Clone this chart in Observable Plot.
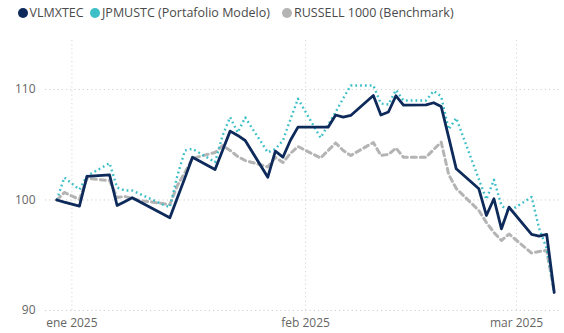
<!DOCTYPE html>
<html><head><meta charset="utf-8">
<script src="https://cdn.jsdelivr.net/npm/d3@7"></script>
<script src="https://cdn.jsdelivr.net/npm/@observablehq/plot@0.6"></script>
<style>
body{margin:0;background:#fff;font-family:"Segoe UI","Open Sans",sans-serif;}
#legend{position:relative;width:564px;height:28px;font-size:12.5px;color:#4a4a4a;}
.item{position:absolute;top:4px;display:flex;align-items:center;white-space:nowrap;line-height:17px}
.dot{width:10px;height:10px;border-radius:50%;margin-right:2px;flex:none}
</style></head><body>
<div id="legend"></div><div id="chart"></div>
<script>
const dates = ["2024-12-30","2024-12-31","2025-01-02","2025-01-03","2025-01-06","2025-01-07","2025-01-08","2025-01-09","2025-01-10","2025-01-13","2025-01-14","2025-01-15","2025-01-16","2025-01-17","2025-01-20","2025-01-21","2025-01-22","2025-01-23","2025-01-24","2025-01-27","2025-01-28","2025-01-29","2025-01-30","2025-01-31","2025-02-03","2025-02-04","2025-02-05","2025-02-06","2025-02-07","2025-02-10","2025-02-11","2025-02-12","2025-02-13","2025-02-14","2025-02-17","2025-02-18","2025-02-19","2025-02-20","2025-02-21","2025-02-24","2025-02-25","2025-02-26","2025-02-27","2025-02-28","2025-03-03","2025-03-04","2025-03-05","2025-03-06"];
const vlmxtec = [100.0,99.8,99.44,102.13,102.28,99.5,99.85,100.2,99.84,98.75,98.39,100.2,102.0,103.87,102.76,104.5,106.23,105.84,105.38,102.06,104.42,103.87,105.4,106.59,106.59,106.59,107.69,107.49,107.65,109.46,107.69,107.96,109.43,108.58,108.6,108.8,108.46,105.66,102.82,101.01,98.6,100.11,97.39,99.35,96.88,96.74,96.88,91.63];
const jpmustc = [100.0,102.04,100.95,102.17,103.33,101.13,100.86,100.86,100.54,99.61,99.35,102.2,104.48,104.63,103.42,105.84,107.49,106.1,107.47,104.3,104.62,105.38,107.29,109.16,105.63,106.8,107.95,109.2,110.36,110.36,108.73,108.64,109.95,109.0,109.0,109.86,109.37,106.38,107.42,101.88,100.05,101.83,99.5,98.96,100.27,97.42,95.61,91.66];
const russell = [100.0,100.68,100.05,101.95,101.76,100.23,100.32,100.14,99.95,99.68,99.59,101.31,102.49,103.76,104.3,104.93,104.48,103.94,103.57,102.99,103.85,103.39,104.21,104.84,103.8,104.48,105.16,104.48,104.03,105.2,104.03,104.12,104.7,103.87,103.87,104.57,105.23,102.3,101.04,99.05,97.96,97.06,96.33,96.92,95.2,95.34,95.43,91.66];
const seriesNames = ["VLMXTEC","JPMUSTC (Portafolio Modelo)","RUSSELL 1000 (Benchmark)"];
const seriesColors = ["#0e2a5b","#3cbfc7","#b4b4b4"];
const yTicks = [90,100,110];
const xTickDates = ["2025-01-01","2025-02-01","2025-03-01"];
const xTickLabels = ["ene 2025","feb 2025","mar 2025"];

const parse = d3.utcParse("%Y-%m-%d");
const seriesValues = [vlmxtec, jpmustc, russell];
const rows = [];
seriesNames.forEach((name, s) => {
  dates.forEach((d, i) => rows.push({date: parse(d), value: seriesValues[s][i], series: name}));
});
const xTicks = xTickDates.map(parse);
const labelMap = new Map(xTicks.map((d, i) => [+d, xTickLabels[i]]));

// legend
const legendLeft = [17.5, 90, 282];
const legend = document.getElementById("legend");
seriesNames.forEach((name, i) => {
  const it = document.createElement("div");
  it.className = "item";
  it.style.left = legendLeft[i] + "px";
  it.innerHTML = `<span class="dot" style="background:${seriesColors[i]}"></span><span>${name}</span>`;
  legend.appendChild(it);
});

const styleFor = [
  {stroke: seriesColors[0], strokeWidth: 2.8},
  {stroke: seriesColors[1], strokeWidth: 2.4, strokeDasharray: "1.8,3", strokeLinecap: "butt"},
  {stroke: seriesColors[2], strokeWidth: 3, strokeDasharray: "5,4"}
];

const chart = Plot.plot({
  width: 564, height: 305,
  marginTop: 12, marginBottom: 23, marginLeft: 45, marginRight: 4,
  style: {fontFamily: '"Segoe UI","Open Sans",sans-serif', fontSize: "12px", color: "#666", background: "white"},
  x: {type: "utc", domain: [new Date(Date.UTC(2024, 11, 28, 12)), new Date(Date.UTC(2025, 2, 6, 20))]},
  y: {domain: [90, 114.43]},
  marks: [
    Plot.ruleY(yTicks, {stroke: "#cfcfcf", strokeDasharray: "1.2,3"}),
    Plot.ruleX(xTicks, {stroke: "#d6d6d6", strokeDasharray: "1.2,3"}),
    Plot.axisY({ticks: yTicks, tickSize: 0, tickPadding: 10, label: null, fontSize: 12, fill: "#666"}),
    Plot.axisX({ticks: xTicks, tickSize: 0, tickPadding: 8, label: null, fontSize: 12, fill: "#666", tickFormat: d => labelMap.get(+d)}),
    ...[2, 1, 0].map(s => Plot.line(rows.filter(r => r.series === seriesNames[s]), {
      x: "date", y: "value", strokeLinejoin: "round", ...styleFor[s]
    }))
  ]
});
document.getElementById("chart").appendChild(chart);
</script>
</body></html>
